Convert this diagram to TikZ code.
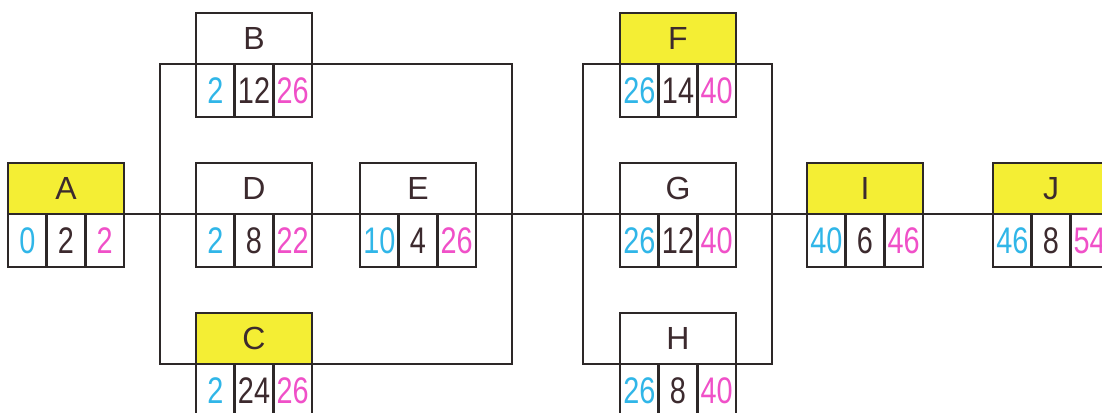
\documentclass[tikz,border=0pt]{standalone}
\usepackage{fontspec}
\setmainfont{Liberation Sans}
\definecolor{hl}{RGB}{244,238,52}
\definecolor{cblue}{RGB}{48,182,232}
\definecolor{cpink}{RGB}{240,80,200}
\definecolor{cdark}{RGB}{60,42,46}
\definecolor{cline}{RGB}{45,40,40}
\tikzset{
  topbox/.style={draw=cline, line width=2.8pt, outer sep=0pt, inner sep=0pt,
    minimum width=116pt, minimum height=51pt, text=cdark,
    font=\fontsize{32}{32}\selectfont},
  cellbox/.style={draw=cline, line width=2.8pt, outer sep=0pt, inner sep=0pt,
    minimum width=38.67pt, minimum height=53pt, text=cdark, fill=white,
    font=\fontsize{37}{37}\selectfont},
  linkline/.style={draw=cline, line width=2.8pt},
}
\newcommand{\actbox}[8]{%
  \node[topbox, fill=#8, anchor=north west] (#1) at (#2,#3) {#4};
  \node[cellbox, anchor=north west, text=cblue] (#1es) at (#1.south west) {\scalebox{0.78}[1]{#5}};
  \node[cellbox, anchor=north west] (#1du) at (#1es.north east) {\scalebox{0.78}[1]{#6}};
  \node[cellbox, anchor=north west, text=cpink] (#1lf) at (#1du.north east) {\scalebox{0.78}[1]{#7}};
}
\begin{document}
\begin{tikzpicture}[x=1pt,y=-1pt]
\useasboundingbox (0,0) rectangle (1102,412);
\fill[white] (0,0) rectangle (1102,412);
% brackets
\draw[linkline] (160,64) rectangle (512,364);
\draw[linkline] (583,64) rectangle (772,364);
% activities
\actbox{A}{8}{163}{A}{0}{2}{2}{hl}
\actbox{B}{196}{13}{B}{2}{12}{26}{white}
\actbox{D}{196}{163}{D}{2}{8}{22}{white}
\actbox{C}{196}{313}{C}{2}{24}{26}{hl}
\actbox{E}{360}{163}{E}{10}{4}{26}{white}
\actbox{F}{620}{13}{F}{26}{14}{40}{hl}
\actbox{G}{620}{163}{G}{26}{12}{40}{white}
\actbox{H}{620}{313}{H}{26}{8}{40}{white}
\actbox{I}{807}{163}{I}{40}{6}{46}{hl}
\actbox{J}{993}{163}{J}{46}{8}{54}{hl}
% main line
\draw[linkline] (A.south east) -- (D.south west);
\draw[linkline] (D.south east) -- (E.south west);
\draw[linkline] (E.south east) -- (G.south west);
\draw[linkline] (G.south east) -- (I.south west);
\draw[linkline] (I.south east) -- (J.south west);
\end{tikzpicture}
\end{document}
